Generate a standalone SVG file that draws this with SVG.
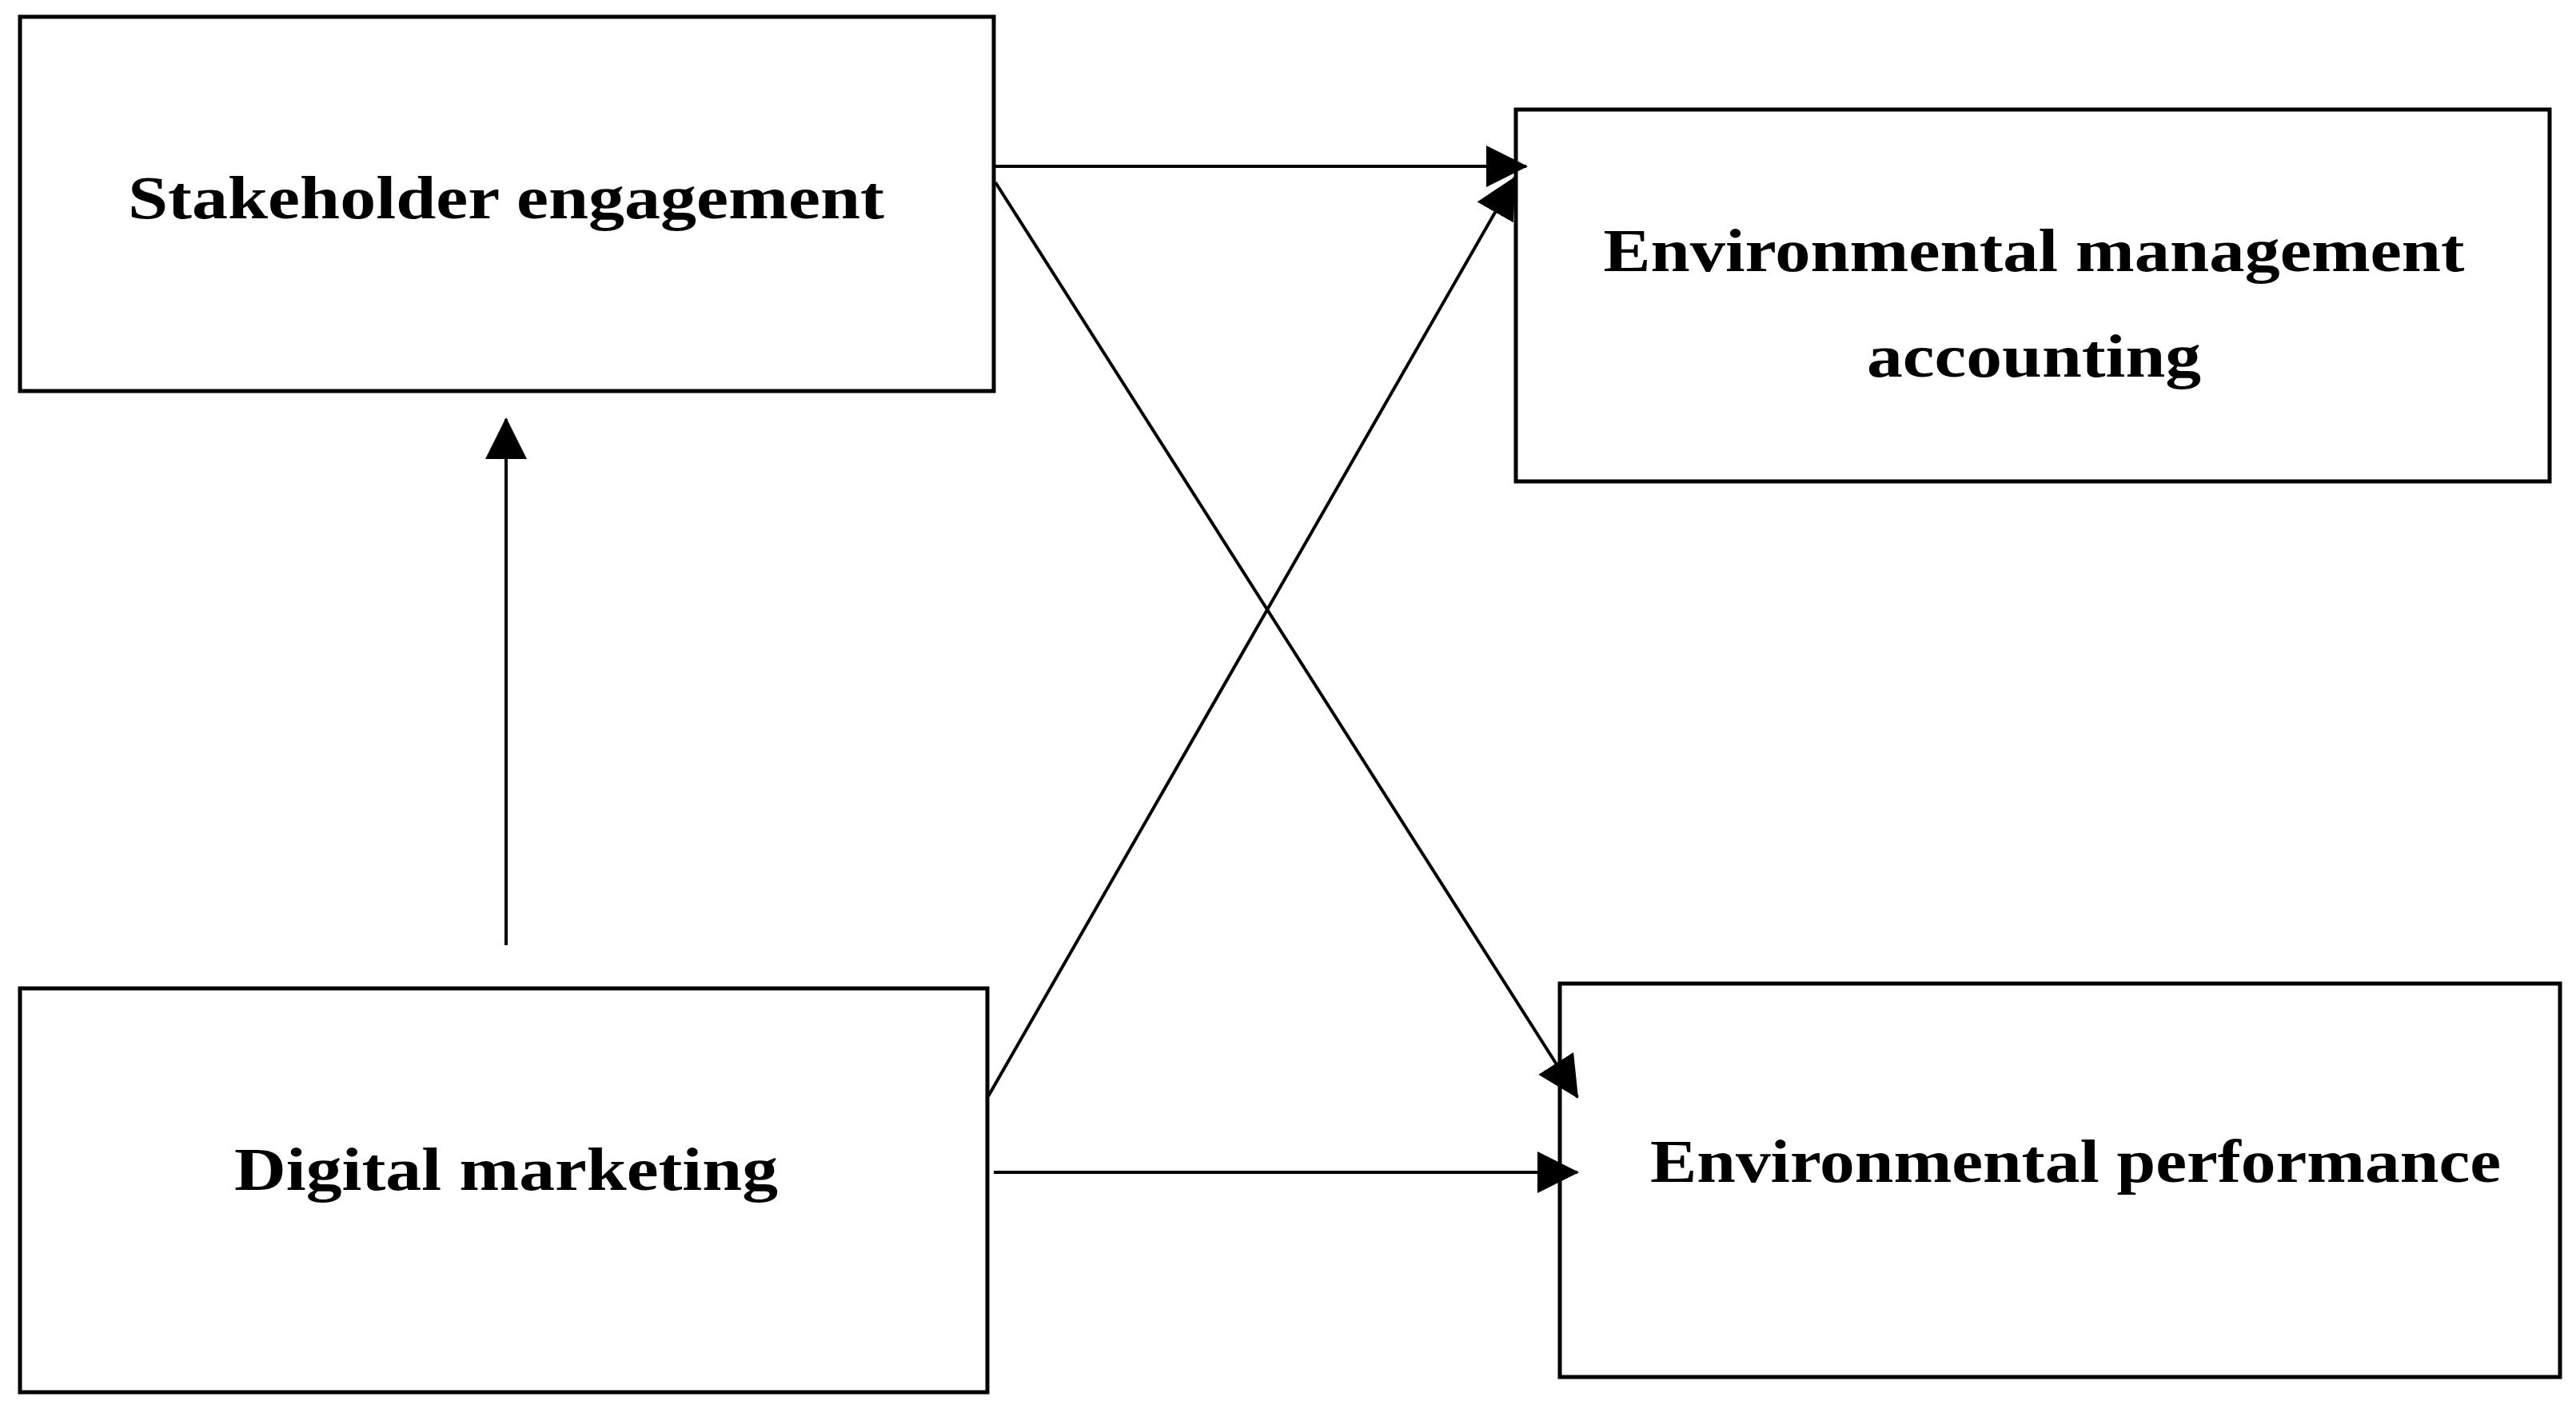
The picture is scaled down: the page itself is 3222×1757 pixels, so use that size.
<svg xmlns="http://www.w3.org/2000/svg" width="3222" height="1757" viewBox="0 0 3222 1757">
<style>
.box{fill:#fff;stroke:#000;stroke-width:5}
.t{font-family:"Liberation Serif",serif;font-weight:bold;font-size:76px;text-anchor:middle;fill:#000}
.c{stroke:#000;stroke-width:4;fill:none;marker-end:url(#ah)}
</style>
<defs>
<marker id="ah" markerUnits="userSpaceOnUse" markerWidth="52" markerHeight="52" refX="50" refY="26" orient="auto" viewBox="0 0 52 52">
<path d="M0,0 L52,26 L0,52 Z" fill="#000"/>
</marker>
</defs>
<g id="se"><rect class="box" x="25" y="21" width="1218" height="468"/><text class="t" x="633" y="273" textLength="946" lengthAdjust="spacingAndGlyphs">Stakeholder engagement</text></g>
<g id="ema"><rect class="box" x="1896" y="137" width="1293" height="465"/><text class="t" x="2544" y="339" textLength="1077" lengthAdjust="spacingAndGlyphs">Environmental management</text><text class="t" x="2544" y="471" textLength="418" lengthAdjust="spacingAndGlyphs">accounting</text></g>
<g id="dm"><rect class="box" x="25" y="1236" width="1210" height="505"/><text class="t" x="633" y="1488" textLength="680" lengthAdjust="spacingAndGlyphs">Digital marketing</text></g>
<g id="ep"><rect class="box" x="1951" y="1230" width="1251" height="492"/><text class="t" x="2596" y="1478" textLength="1064" lengthAdjust="spacingAndGlyphs">Environmental performance</text></g>
<g id="connectors">
<line class="c" x1="1245" y1="208" x2="1909" y2="208"/>
<line class="c" x1="1245" y1="228" x2="1973" y2="1372"/>
<line class="c" x1="1236" y1="1371" x2="1895" y2="222"/>
<line class="c" x1="633" y1="1182" x2="633" y2="524"/>
<line class="c" x1="1243" y1="1466" x2="1973" y2="1466"/>
</g>
</svg>
